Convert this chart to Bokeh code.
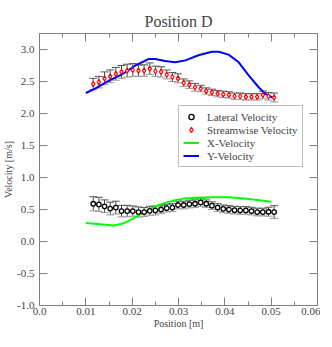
from bokeh.plotting import figure
from bokeh.models import (ColumnDataSource, Whisker, TeeHead, LinearAxis, Legend, LegendItem,
                          FixedTicker, Range1d, CustomJSTickFormatter)
from bokeh.embed import file_html
from bokeh.resources import INLINE

# ---- data ----
pos = [0.0116 + 0.00122 * i for i in range(33)]
lateral = [0.59, 0.58, 0.55, 0.515, 0.53, 0.475, 0.475, 0.475, 0.46, 0.46, 0.48, 0.485, 0.50,
           0.52, 0.53, 0.57, 0.57, 0.585, 0.59, 0.61, 0.59, 0.56, 0.53, 0.51, 0.50, 0.49,
           0.485, 0.485, 0.475, 0.46, 0.46, 0.465, 0.46]
lateral_err = [0.11, 0.11, 0.10, 0.10, 0.10, 0.09, 0.09, 0.08, 0.08, 0.07, 0.07, 0.07, 0.06,
               0.06, 0.06, 0.06, 0.06, 0.06, 0.06, 0.06, 0.06, 0.06, 0.06, 0.06, 0.06, 0.06,
               0.06, 0.06, 0.06, 0.06, 0.06, 0.07, 0.10]
stream = [2.46, 2.49, 2.55, 2.58, 2.62, 2.65, 2.67, 2.68, 2.67, 2.67, 2.70, 2.66, 2.65, 2.61,
          2.57, 2.55, 2.48, 2.45, 2.41, 2.39, 2.35, 2.33, 2.31, 2.30, 2.29, 2.27, 2.27, 2.26,
          2.26, 2.26, 2.29, 2.27, 2.25]
stream_err = [0.09, 0.09, 0.10, 0.10, 0.10, 0.10, 0.10, 0.10, 0.09, 0.09, 0.09, 0.08, 0.08,
              0.07, 0.07, 0.07, 0.06, 0.06, 0.06, 0.05, 0.05, 0.05, 0.05, 0.05, 0.05, 0.05,
              0.05, 0.05, 0.05, 0.05, 0.06, 0.06, 0.07]

yvel_x = [0.0100, 0.0120, 0.0149, 0.0178, 0.0207, 0.0235, 0.0250, 0.0271, 0.0293, 0.0315,
          0.0343, 0.0372, 0.0387, 0.0408, 0.0430, 0.0451, 0.0473, 0.0487, 0.0504]
yvel_y = [2.32, 2.39, 2.51, 2.61, 2.75, 2.85, 2.85, 2.82, 2.80, 2.83, 2.91, 2.965, 2.965,
          2.92, 2.80, 2.60, 2.41, 2.31, 2.245]
xvel_x = [0.0100, 0.0130, 0.0160, 0.0180, 0.0200, 0.0228, 0.0250, 0.0270, 0.0290, 0.0311,
          0.0340, 0.0376, 0.0410, 0.0441, 0.0470, 0.0500]
xvel_y = [0.29, 0.27, 0.25, 0.28, 0.35, 0.47, 0.55, 0.60, 0.64, 0.67, 0.685, 0.69, 0.69,
          0.67, 0.65, 0.62]

x_ticks = [0.0, 0.01, 0.02, 0.03, 0.04, 0.05, 0.06]
x_minor = [0.005, 0.015, 0.025, 0.035, 0.045, 0.055]
y_ticks = [-1.0, -0.5, 0.0, 0.5, 1.0, 1.5, 2.0, 2.5, 3.0]

FONT = "Liberation Serif"
AX = "#808080"

p = figure(frame_width=278, frame_height=272, x_range=Range1d(0, 0.06), y_range=Range1d(-1.0, 3.25),
           output_backend="svg", toolbar_location=None, title="Position D",
           min_border_left=33, min_border_right=3, min_border_top=33, min_border_bottom=26)
p.title.text_font = FONT
p.title.text_font_size = "16px"
p.title.text_font_style = "normal"
p.title.align = "center"
p.title.offset = 0
p.title.standoff = 8
p.outline_line_color = AX
p.grid.visible = False

def style(ax, labels=True, standoff=3):
    ax.axis_line_color = AX
    ax.major_tick_line_color = AX
    ax.minor_tick_line_color = AX
    ax.major_tick_in = 8
    ax.major_tick_out = 0
    ax.minor_tick_in = 4
    ax.minor_tick_out = 0
    ax.major_label_text_font = FONT
    ax.axis_label_text_font = FONT
    ax.axis_label_text_font_size = "10px"
    ax.axis_label_text_font_style = "normal"
    ax.axis_label_standoff = 0
    if labels:
        ax.major_label_text_font_size = "11px"
        ax.major_label_standoff = standoff
    else:
        ax.axis_label = None
        ax.major_label_text_font_size = "1px"
        ax.major_label_text_color = None
        ax.major_label_standoff = 0
        ax.formatter = CustomJSTickFormatter(code="return ''")

p.xaxis.ticker = FixedTicker(ticks=x_ticks, minor_ticks=x_minor)
p.yaxis.ticker = FixedTicker(ticks=y_ticks, minor_ticks=[])
p.xaxis.axis_label = "Position [m]"
p.yaxis.axis_label = "Velocity [m/s]"
p.xaxis.major_label_overrides = {t: ("0.0" if t == 0 else f"{t:.2f}") for t in x_ticks}
p.yaxis.major_label_overrides = {t: f"{t:.1f}" for t in y_ticks}
style(p.xaxis[0], standoff=2)
style(p.yaxis[0], standoff=5)

top = LinearAxis(ticker=FixedTicker(ticks=x_ticks, minor_ticks=x_minor))
right = LinearAxis(ticker=FixedTicker(ticks=y_ticks, minor_ticks=[]))
style(top, labels=False)
style(right, labels=False)
p.add_layout(top, "above")
p.add_layout(right, "right")

# curves
g_line = p.line(xvel_x, xvel_y, line_color="#00ff00", line_width=2)
b_line = p.line(yvel_x, yvel_y, line_color="#0000ff", line_width=2)

# error bars
src_s = ColumnDataSource(dict(x=pos, y=stream, lo=[v - e for v, e in zip(stream, stream_err)],
                              hi=[v + e for v, e in zip(stream, stream_err)]))
src_l = ColumnDataSource(dict(x=pos, y=lateral, lo=[v - e for v, e in zip(lateral, lateral_err)],
                              hi=[v + e for v, e in zip(lateral, lateral_err)]))
for src in (src_s, src_l):
    w = Whisker(source=src, base="x", upper="hi", lower="lo", line_color="#444444", line_width=1,
                upper_head=TeeHead(size=8, line_color="#555555", line_width=1),
                lower_head=TeeHead(size=8, line_color="#999999", line_width=1))
    p.add_layout(w)

lat_r = p.scatter("x", "y", source=src_l, marker="circle", size=4.5, line_color="black",
                  line_width=1.3, fill_color="white")
str_r = p.scatter("x", "y", source=src_s, marker="diamond", size=5, line_color="red",
                  line_width=1.2, fill_color="white")

legend = Legend(items=[
    LegendItem(label="Lateral Velocity", renderers=[lat_r]),
    LegendItem(label="Streamwise Velocity", renderers=[str_r]),
    LegendItem(label="X-Velocity", renderers=[g_line]),
    LegendItem(label="Y-Velocity", renderers=[b_line]),
], location=(139, 138))
legend.label_text_font = FONT
legend.label_text_font_size = "11px"
legend.border_line_color = AX
legend.border_line_width = 1
legend.background_fill_alpha = 1
legend.padding = 4
legend.spacing = 0
legend.margin = 0
legend.glyph_width = 16
legend.glyph_height = 13
legend.label_height = 13
legend.label_standoff = 8
p.add_layout(legend, "center")

open("out.html", "w").write(file_html(p, INLINE))
